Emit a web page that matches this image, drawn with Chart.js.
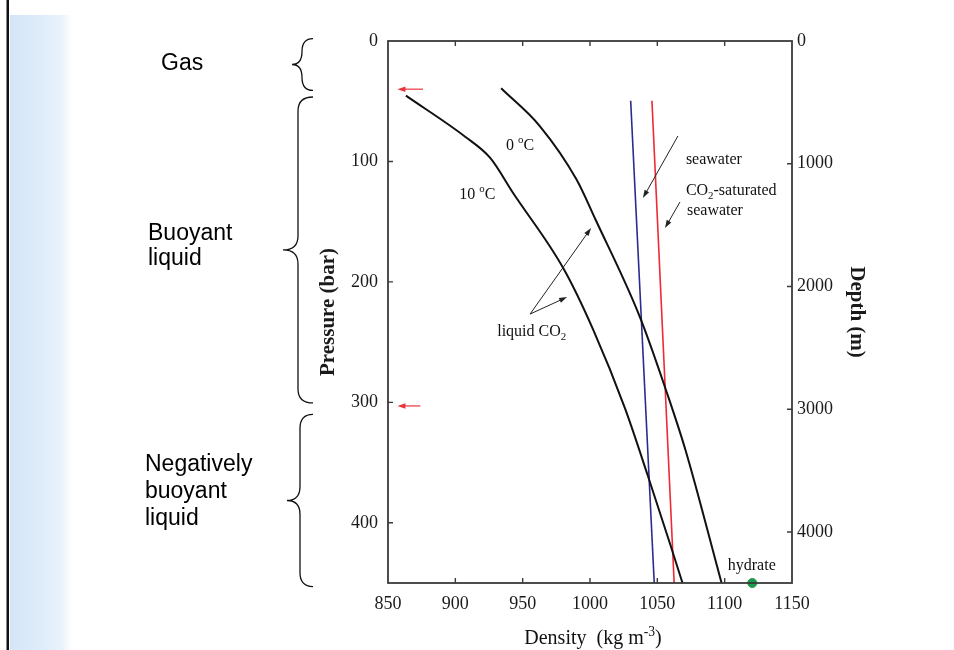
<!DOCTYPE html>
<html><head><meta charset="utf-8">
<script src="https://cdn.jsdelivr.net/npm/chart.js@4/dist/chart.umd.min.js"></script>
<style>html,body{margin:0;padding:0;background:#fff;overflow:hidden}#wrap{width:954px;height:650px;position:relative}</style>
</head><body><div id="wrap"><canvas id="c" width="954" height="650"></canvas></div>
<script>
// ---- data ----
const densityTicks = [850, 900, 950, 1000, 1050, 1100, 1150];
const pressureTicks = [0, 100, 200, 300, 400];
const depthTicks = [0, 1000, 2000, 3000, 4000];

const co2_0C_density  = [934.0, 963.0, 990.0, 1004.0, 1037.0, 1058.0, 1071.0, 1097.7];
const co2_0C_pressure = [39.3, 71.0, 115.0, 148.0, 229.0, 295.0, 340.0, 450.0];
const co2_10C_density  = [863.3, 907.3, 925.9, 942.9, 980.2, 1002.5, 1026.0, 1043.2, 1059.3, 1068.7];
const co2_10C_pressure = [45.4, 79.5, 97.1, 126.2, 188.7, 240.0, 305.0, 361.8, 417.0, 450.0];
const seawater_density  = [1030.2, 1047.7];
const seawater_pressure = [49.6, 450.0];
const co2sat_density  = [1046.0, 1062.5];
const co2sat_pressure = [49.6, 450.0];
const hydrate_density  = [1120.5];
const hydrate_pressure = [450.0];
const phaseArrowPressure = [40, 303];
const regionLabels = [["Gas"], ["Buoyant", "liquid"], ["Negatively", "buoyant", "liquid"]];
const regionRanges = [[-2, 41], [46.5, 300.5], [310, 453]];

const pts = (xs, ys) => xs.map((x, i) => ({x: x, y: ys[i]}));
const SERIF = "'Liberation Serif', 'Times New Roman', serif";
const SANS = "'Liberation Sans', Arial, sans-serif";

function richText(ctx, x, y, parts, size, align) {
  let w = 0;
  const m = parts.map(p => {
    const s = p[1] ? size * 0.68 : size;
    ctx.font = s + 'px ' + SERIF;
    const ww = ctx.measureText(p[0]).width;
    w += ww;
    return {t: p[0], mode: p[1], s: s, w: ww};
  });
  let cx = align === 'center' ? x - w / 2 : x;
  ctx.textAlign = 'left';
  ctx.textBaseline = 'middle';
  m.forEach(p => {
    ctx.font = p.s + 'px ' + SERIF;
    let dy = 0;
    if (p.mode === 'sub') dy = size * 0.3;
    if (p.mode === 'sup') dy = -size * 0.35;
    ctx.fillText(p.t, cx, y + dy);
    cx += p.w;
  });
}

function arrow(ctx, x1, y1, x2, y2, color, lw, hl, hw) {
  const a = Math.atan2(y2 - y1, x2 - x1);
  ctx.save();
  ctx.strokeStyle = color; ctx.fillStyle = color; ctx.lineWidth = lw;
  ctx.beginPath();
  ctx.moveTo(x1, y1);
  ctx.lineTo(x2 - Math.cos(a) * hl * 0.8, y2 - Math.sin(a) * hl * 0.8);
  ctx.stroke();
  ctx.beginPath();
  ctx.moveTo(x2, y2);
  ctx.lineTo(x2 - Math.cos(a) * hl + Math.sin(a) * hw, y2 - Math.sin(a) * hl - Math.cos(a) * hw);
  ctx.lineTo(x2 - Math.cos(a) * hl - Math.sin(a) * hw, y2 - Math.sin(a) * hl + Math.cos(a) * hw);
  ctx.closePath();
  ctx.fill();
  ctx.restore();
}

function brace(ctx, y1, y2, ym, xe, xv, xt) {
  const r = Math.min(14, (y2 - y1) / 4);
  ctx.beginPath();
  ctx.moveTo(xe, y1);
  ctx.quadraticCurveTo(xv, y1, xv, y1 + r);
  ctx.lineTo(xv, ym - r);
  ctx.quadraticCurveTo(xv, ym, xt, ym);
  ctx.quadraticCurveTo(xv, ym, xv, ym + r);
  ctx.lineTo(xv, y2 - r);
  ctx.quadraticCurveTo(xv, y2, xe, y2);
  ctx.stroke();
}

const decor = {
  id: 'decor',
  beforeDraw(chart) {
    const ctx = chart.ctx;
    const ys = chart.scales.y;
    ctx.save();
    ctx.fillStyle = '#fff';
    ctx.fillRect(0, 0, chart.width, chart.height);
    // light blue side stripe
    const g = ctx.createLinearGradient(10, 0, 72, 0);
    g.addColorStop(0, 'rgba(212,229,246,1)');
    g.addColorStop(0.5, 'rgba(222,236,250,1)');
    g.addColorStop(0.85, 'rgba(234,243,252,1)');
    g.addColorStop(1, 'rgba(255,255,255,1)');
    ctx.fillStyle = g;
    ctx.fillRect(10, 15, 62, chart.height - 15);
    // black left rule
    ctx.fillStyle = '#111';
    ctx.fillRect(6.5, 0, 2.5, chart.height);
    // braces
    ctx.strokeStyle = '#111';
    ctx.lineWidth = 1.3;
    const geo = [[313, 302, 292], [313, 298, 283], [313, 300, 287]];
    regionRanges.forEach((r, i) => {
      const y1 = ys.getPixelForValue(r[0]);
      const y2 = ys.getPixelForValue(r[1]);
      brace(ctx, y1, y2, (y1 + y2) / 2, geo[i][0], geo[i][1], geo[i][2]);
    });
    // region labels
    ctx.fillStyle = '#000';
    ctx.font = '23px ' + SANS;
    ctx.textAlign = 'left';
    ctx.textBaseline = 'middle';
    const lx = [161, 148, 145];
    const dy = [-1, -4, -9];
    const lh = [26, 25, 27];
    regionLabels.forEach((lines, i) => {
      const y1 = ys.getPixelForValue(regionRanges[i][0]);
      const y2 = ys.getPixelForValue(regionRanges[i][1]);
      const yc = (y1 + y2) / 2 + dy[i];
      lines.forEach((t, k) => {
        ctx.fillText(t, lx[i], yc + (k - (lines.length - 1) / 2) * lh[i]);
      });
    });
    ctx.restore();
  },
  afterDraw(chart) {
    const ctx = chart.ctx;
    const a = chart.chartArea;
    const xs = chart.scales.x, ys = chart.scales.y, y2s = chart.scales.y2;
    ctx.save();
    // frame
    ctx.strokeStyle = '#3a3a3a';
    ctx.lineWidth = 1.8;
    ctx.strokeRect(a.left, a.top, a.right - a.left, a.bottom - a.top);
    // inward ticks
    ctx.lineWidth = 1.4;
    ctx.beginPath();
    densityTicks.forEach(v => {
      const px = xs.getPixelForValue(v);
      if (v <= 850 || v >= 1150) return;
      ctx.moveTo(px, a.bottom); ctx.lineTo(px, a.bottom - 5);
      ctx.moveTo(px, a.top); ctx.lineTo(px, a.top + 5);
    });
    pressureTicks.forEach(v => {
      if (v === 0) return;
      const py = ys.getPixelForValue(v);
      ctx.moveTo(a.left, py); ctx.lineTo(a.left + 5, py);
    });
    depthTicks.forEach(v => {
      if (v === 0) return;
      const py = y2s.getPixelForValue(v);
      ctx.moveTo(a.right, py); ctx.lineTo(a.right - 5, py);
    });
    ctx.stroke();
    // red phase arrows
    phaseArrowPressure.forEach((p, i) => {
      const py = ys.getPixelForValue(p);
      const x1 = xs.getPixelForValue(i === 0 ? 876 : 874);
      const x2 = xs.getPixelForValue(857);
      arrow(ctx, x1, py, x2, py, '#e8343c', 1.2, 8, 2.8);
    });
    // annotations
    const P = (x, y) => [xs.getPixelForValue(x), ys.getPixelForValue(y)];
    ctx.fillStyle = '#111';
    const T = (x, y, parts) => { const p = P(x, y); richText(ctx, p[0], p[1], parts, 16, 'left'); };
    T(937.7, 87.2, [['0 '], ['o', 'sup'], ['C']]);
    T(902.9, 127.9, [['10 '], ['o', 'sup'], ['C']]);
    T(1071.2, 98.8, [['seawater']]);
    T(1071.2, 124.5, [['CO'], ['2', 'sub'], ['-saturated']]);
    T(1072.0, 141.1, [['seawater']]);
    T(931.1, 241.6, [['liquid CO'], ['2', 'sub']]);
    T(1102.3, 435.9, [['hydrate']]);
    const A = (x1, y1, x2, y2) => { const p = P(x1, y1), q = P(x2, y2); arrow(ctx, p[0], p[1], q[0], q[1], '#222', 1, 8, 2.6); };
    A(1065.3, 78.9, 1039.3, 130.4);
    A(1066.8, 133.7, 1055.7, 155.3);
    A(955.5, 226.7, 1000.8, 155.3);
    A(955.5, 226.7, 983.0, 212.6);
    // x title with superscript
    ctx.fillStyle = '#111';
    richText(ctx, (a.left + a.right) / 2 + 3, 639, [['Density  (kg m'], ['-3', 'sup'], [')']], 20, 'center');
    ctx.restore();
  }
};

const tickFont = {family: SERIF, size: 18};
const plain = v => String(v);
new Chart(document.getElementById('c'), {
  type: 'line',
  data: {
    datasets: [
      {label: '0 °C', data: pts(co2_0C_density, co2_0C_pressure), borderColor: '#111', borderWidth: 2, pointRadius: 0, cubicInterpolationMode: 'monotone'},
      {label: '10 °C', data: pts(co2_10C_density, co2_10C_pressure), borderColor: '#111', borderWidth: 2, pointRadius: 0, cubicInterpolationMode: 'monotone'},
      {label: 'seawater', data: pts(seawater_density, seawater_pressure), borderColor: '#2c2c90', borderWidth: 1.6, pointRadius: 0},
      {label: 'CO2-saturated seawater', data: pts(co2sat_density, co2sat_pressure), borderColor: '#ee2a35', borderWidth: 1.6, pointRadius: 0},
      {label: 'hydrate', data: pts(hydrate_density, hydrate_pressure), showLine: false, pointRadius: 4.5, pointBackgroundColor: '#1d9a4c', pointBorderColor: '#1d9a4c', clip: false}
    ]
  },
  options: {
    responsive: false,
    animation: false,
    events: [],
    layout: {padding: {left: 310, right: 82, top: 41, bottom: 0}},
    plugins: {legend: {display: false}, tooltip: {enabled: false}},
    scales: {
      x: {
        type: 'linear', position: 'bottom', min: 850, max: 1150,
        afterFit: s => { s.height = 67; },
        afterBuildTicks: s => { s.ticks = densityTicks.map(v => ({value: v})); },
        ticks: {font: tickFont, color: '#1a1a1a', padding: 10, maxRotation: 0, autoSkip: false, callback: plain},
        grid: {display: false, drawTicks: false}, border: {display: false}
      },
      y: {
        type: 'linear', position: 'left', reverse: true, min: 0, max: 450,
        afterFit: s => { s.width = 78; },
        afterBuildTicks: s => { s.ticks = pressureTicks.map(v => ({value: v})); },
        ticks: {font: tickFont, color: '#1a1a1a', padding: 10, autoSkip: false, callback: plain},
        grid: {display: false, drawTicks: false}, border: {display: false},
        title: {display: true, text: 'Pressure (bar)', font: {family: SERIF, size: 21, weight: 'bold'}, color: '#1a1a1a', padding: {top: 6, bottom: 0}}
      },
      y2: {
        type: 'linear', position: 'right', reverse: true, min: 0, max: 4415,
        afterFit: s => { s.width = 80; },
        afterBuildTicks: s => { s.ticks = depthTicks.map(v => ({value: v})); },
        ticks: {font: tickFont, color: '#1a1a1a', padding: 5, autoSkip: false, callback: plain},
        grid: {display: false, drawTicks: false}, border: {display: false},
        title: {display: true, text: 'Depth (m)', font: {family: SERIF, size: 21, weight: 'bold'}, color: '#1a1a1a', padding: {top: 3, bottom: 0}}
      }
    }
  },
  plugins: [decor]
});
</script>
</body></html>
